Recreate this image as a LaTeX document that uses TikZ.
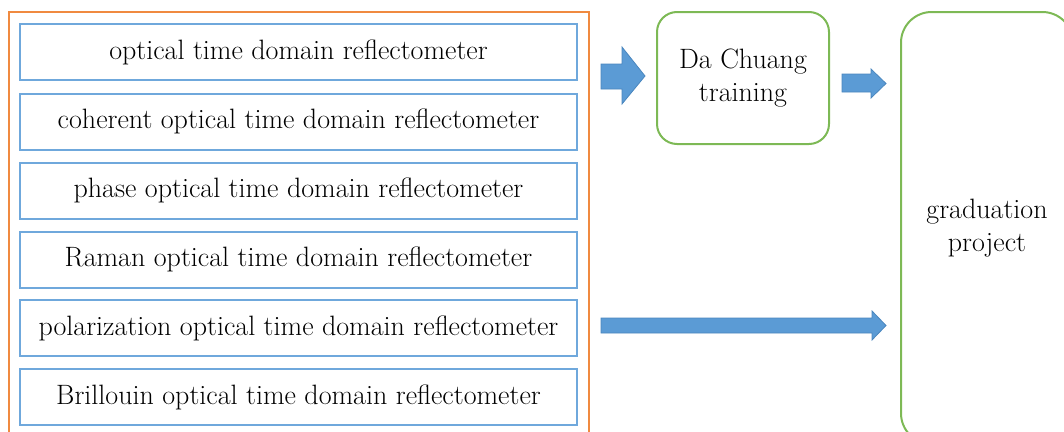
\documentclass[tikz,border=0pt]{standalone}
\definecolor{boxblue}{HTML}{6FA8DC}
\definecolor{borange}{HTML}{F08A40}
\definecolor{bgreen}{HTML}{7DB955}
\definecolor{arrfill}{HTML}{5B9BD5}
\definecolor{arrline}{HTML}{4A86BE}
\begin{document}
\begin{tikzpicture}[x=0.75pt,y=-0.75pt,
  itembox/.style={draw=boxblue,line width=1.5pt,minimum width=557*0.75pt,minimum height=56*0.75pt,inner sep=0pt,font=\fontsize{21}{25}\selectfont},
  greenbox/.style={draw=bgreen,line width=1.5pt,inner sep=0pt,align=center,font=\fontsize{21}{25}\selectfont},
  blockarrow/.style={fill=arrfill,draw=arrline,line width=0.6pt}]
\useasboundingbox (0,0) rectangle (1064,432);
\clip (0,0) rectangle (1064,432);
\node[draw=borange,line width=1.5pt,minimum width=580*0.75pt,minimum height=426*0.75pt,inner sep=0pt] (outer) at (299,225) {};
\node[itembox] (b1) at (298.5,52) {optical time domain reflectometer};
\node[itembox] (b2) at (298.5,121.5) {coherent optical time domain reflectometer};
\node[itembox] (b3) at (298.5,190.5) {phase optical time domain reflectometer};
\node[itembox] (b4) at (298.5,259.5) {Raman optical time domain reflectometer};
\node[itembox] (b5) at (298.5,328) {polarization optical time domain reflectometer};
\node[itembox] (b6) at (298.5,397) {Brillouin optical time domain reflectometer};
\node[greenbox,rounded corners=15pt,minimum width=172*0.75pt,minimum height=132*0.75pt] (dc) at (743,78) {Da Chuang\\training};
\node[greenbox,rounded corners=23pt,minimum width=172*0.75pt,minimum height=432*0.75pt] (gp) at (987,228) {graduation\\project};
\draw[blockarrow] (601,64) -- (622,64) -- (622,47) -- (645,76) -- (622,104) -- (622,89) -- (601,89) -- cycle;
\draw[blockarrow] (842,74) -- (871,74) -- (871,69) -- (886,83.5) -- (871,98) -- (871,92) -- (842,92) -- cycle;
\draw[blockarrow] (601,318) -- (872,318) -- (872,311) -- (886,325.5) -- (872,340) -- (872,333) -- (601,333) -- cycle;
\end{tikzpicture}
\end{document}
